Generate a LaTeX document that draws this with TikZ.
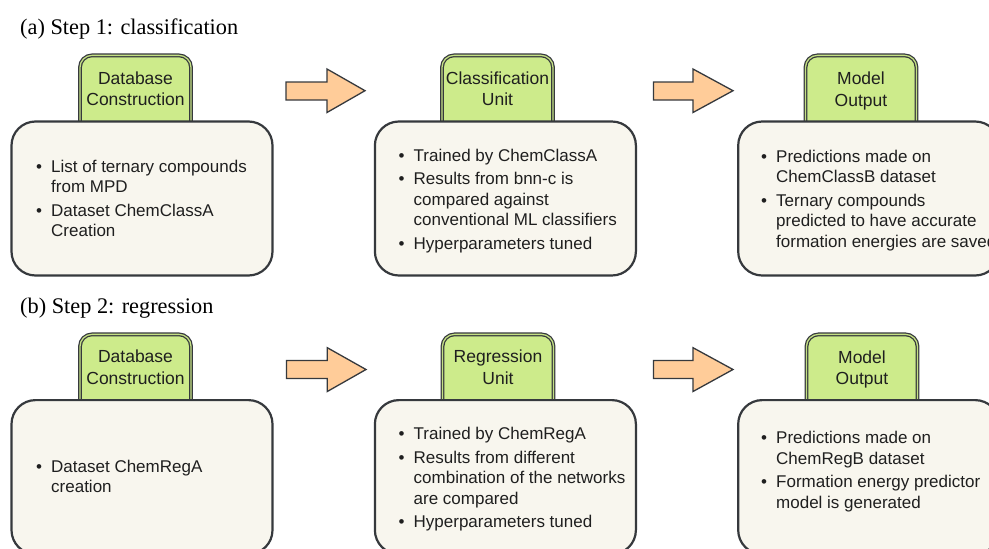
\documentclass[tikz,border=0pt]{standalone}
\usepackage{fontspec}
\setmainfont{Liberation Sans}
\newfontfamily\titlefont{Liberation Serif}

\definecolor{tabgreen}{RGB}{205,235,139}
\definecolor{tabband}{RGB}{196,224,132}
\definecolor{boxfill}{RGB}{248,246,238}
\definecolor{edge}{RGB}{54,57,61}
\definecolor{arrowfill}{RGB}{255,204,153}

\newcommand\bu{\makebox[15pt][l]{•}}
\newcommand\tabtxt[2]{{\fontsize{17.5}{21.4}\selectfont\begin{tabular}{@{}c@{}}#1\\#2\end{tabular}}}
\newcommand\blist[1]{{\fontsize{17}{20.5}\selectfont\begin{tabular}{@{}l@{}l@{}}#1\end{tabular}}}

\tikzset{
  tabbox/.style={draw=edge, line width=1.25pt, double=tabband, double distance=1.3pt,
    fill=tabgreen, rounded corners=12pt, minimum width=111pt, minimum height=80pt,
    anchor=north, inner sep=0pt},
  mainbox/.style={draw=edge, line width=2.2pt, fill=boxfill, rounded corners=24pt,
    minimum width=261pt, minimum height=154pt, anchor=north west, inner sep=0pt},
  tablabel/.style={anchor=north, inner sep=0pt, text=black!88},
  listtext/.style={anchor=north west, inner sep=0pt, text=black!88},
  title/.style={anchor=base west, inner sep=0pt, font=\titlefont\fontsize{22.3}{26}\selectfont},
  blockarrow/.style={draw=edge, line width=1.3pt, fill=arrowfill, line join=miter},
}

\begin{document}
\begin{tikzpicture}[x=1pt,y=-1pt]
\clip (0,0) rectangle (989,549);
\fill[white] (0,0) rectangle (989,549);

% ---------------- (a) ----------------
\node[title] (ta) at (20,34.5) {(a) Step 1: classification};

\node[tabbox] (a1tab) at (135.5,54.75) {};
\node[tabbox] (a2tab) at (497.5,54.75) {};
\node[tabbox] (a3tab) at (861,54.75) {};

\node[mainbox] (a1) at (10.4,120.4) {};
\node[mainbox] (a2) at (373.8,120.4) {};
\node[mainbox] (a3) at (737.1,120.4) {};

\node[tablabel] (a1tl) at (135.5,69.3) {\tabtxt{Database}{Construction}};
\node[tablabel] (a2tl) at (497.5,69.3) {\tabtxt{Classification}{Unit}};
\node[tablabel] (a3tl) at (861,69.8) {\tabtxt{Model}{Output}};

\node[listtext] (a1l) at (36,157.5) {\blist{%
  \bu & List of ternary compounds\\ & from MPD\\[3pt]
  \bu & Dataset ChemClassA\\ & Creation}};
\node[listtext] (a2l) at (398.5,146.5) {\blist{%
  \bu & Trained by ChemClassA\\[3pt]
  \bu & Results from bnn-c is\\ & compared against\\ & conventional ML classifiers\\[3pt]
  \bu & Hyperparameters tuned}};
\node[listtext] (a3l) at (761,147.5) {\blist{%
  \bu & Predictions made on\\ & ChemClassB dataset\\[3pt]
  \bu & Ternary compounds\\ & predicted to have accurate\\ & formation energies are saved}};

\draw[blockarrow] (286,82) -- (327,82) -- (327,69) -- (365,90.7) -- (327,112.5) -- (327,100) -- (286,100) -- cycle;
\draw[blockarrow] (653.5,82) -- (693,82) -- (693,69) -- (733,90.7) -- (693,112.5) -- (693,100) -- (653.5,100) -- cycle;

% ---------------- (b) ----------------
\node[title] (tb) at (20,313) {(b) Step 2: regression};

\node[tabbox] (b1tab) at (135.5,333.75) {};
\node[tabbox] (b2tab) at (498,333.75) {};
\node[tabbox] (b3tab) at (862,333.75) {};

\node[mainbox] (b1) at (10.4,399) {};
\node[mainbox] (b2) at (373.8,399) {};
\node[mainbox] (b3) at (737.1,399) {};

\node[tablabel] (b1tl) at (135.5,347.7) {\tabtxt{Database}{Construction}};
\node[tablabel] (b2tl) at (498,347.7) {\tabtxt{Regression}{Unit}};
\node[tablabel] (b3tl) at (862,348.3) {\tabtxt{Model}{Output}};

\node[listtext] (b1l) at (36,457.7) {\blist{%
  \bu & Dataset ChemRegA\\ & creation}};
\node[listtext] (b2l) at (398.5,425) {\blist{%
  \bu & Trained by ChemRegA\\[3pt]
  \bu & Results from different\\ & combination of the networks\\ & are compared\\[3pt]
  \bu & Hyperparameters tuned}};
\node[listtext] (b3l) at (761,429.3) {\blist{%
  \bu & Predictions made on\\ & ChemRegB dataset\\[3pt]
  \bu & Formation energy predictor\\ & model is generated}};

\draw[blockarrow] (286.5,360.5) -- (327.3,360.5) -- (327.3,347.7) -- (366,369.5) -- (327.3,391.5) -- (327.3,378.5) -- (286.5,378.5) -- cycle;
\draw[blockarrow] (653.5,360.5) -- (693,360.5) -- (693,347.7) -- (733,369.5) -- (693,391.5) -- (693,378.5) -- (653.5,378.5) -- cycle;
\end{tikzpicture}
\end{document}
